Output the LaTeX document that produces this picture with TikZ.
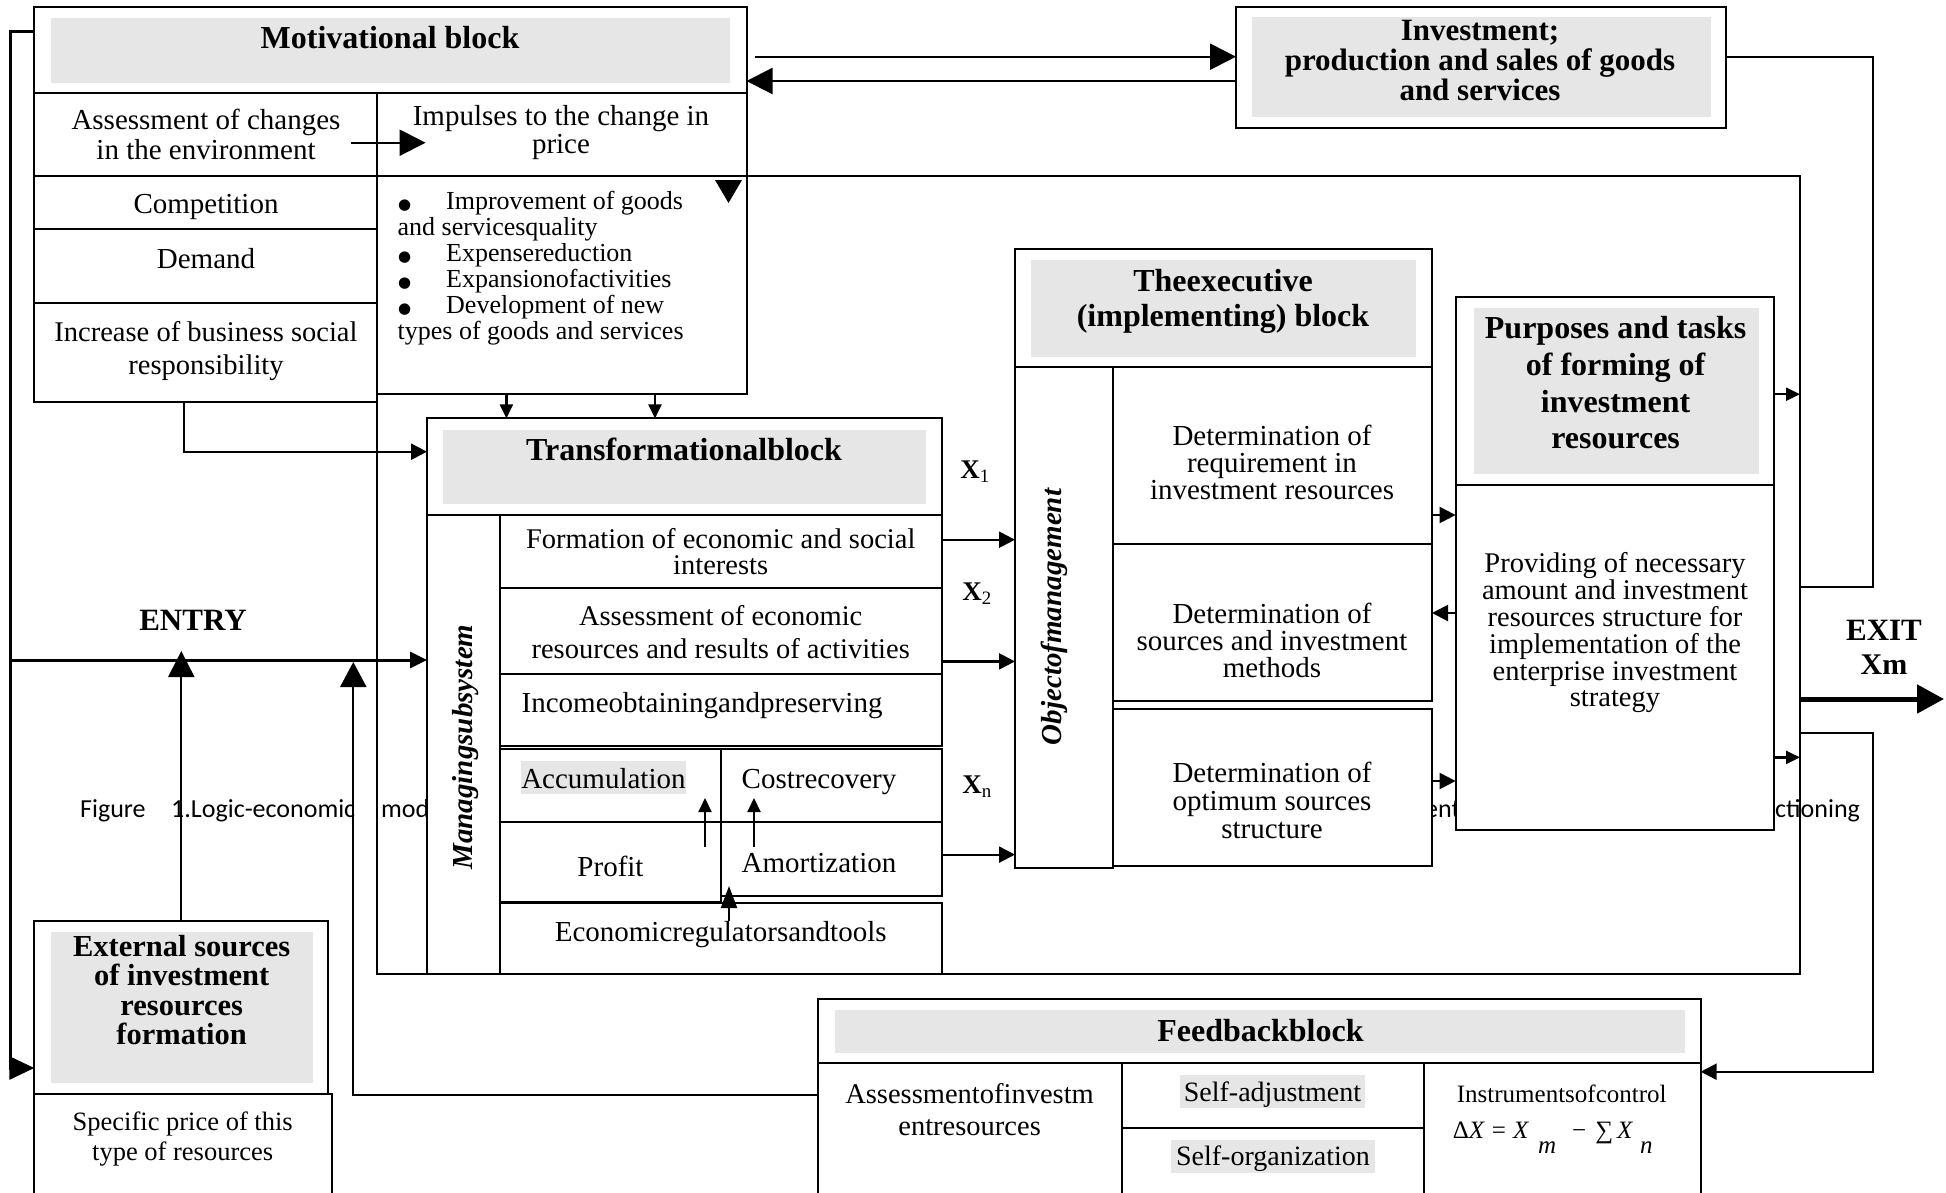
\documentclass[tikz,border=0pt]{standalone}
\usepackage{fontspec}
\setmainfont{Liberation Serif}
\newfontfamily\capfont{Carlito}
\newfontfamily\symfont{DejaVu Sans}
\usetikzlibrary{fit,arrows.meta,calc}
\newcommand\fsz[2]{\fontsize{#1pt}{#2pt}\selectfont}
\newcommand\bul{\makebox[48.5pt][l]{\hspace{0.5pt}{\symfont\fontsize{15pt}{26pt}\selectfont ●}}}
\definecolor{hl}{RGB}{230,230,230}
\begin{document}
\begin{tikzpicture}[x=1pt,y=-1pt,
 cell/.style={draw,line width=2pt,fill=white,inner sep=0pt,outer sep=0pt},
 graybox/.style={fill=hl,draw=none,inner sep=0pt,outer sep=0pt},
 tx/.style={inner sep=0pt,outer sep=0pt,align=center,font=\fsz{29}{30}},
 hd/.style={tx,font=\fsz{32}{35}\bfseries},
 rot/.style={inner sep=0pt,rotate=90,font=\fsz{29}{30}\bfseries\itshape},
 capt/.style={inner sep=0pt,font=\capfont\fsz{26}{30}},
 xl/.style={inner sep=0pt,font=\fsz{27}{30}},
 lnk/.style={line width=2.2pt},
 aBig/.style={lnk,-{Triangle[length=26pt,width=26pt]}},
 aMed/.style={lnk,-{Triangle[length=16pt,width=16pt]}},
 aSm/.style={lnk,-{Triangle[length=14pt,width=13pt]}},
]
\useasboundingbox (0,0) rectangle (1946,1192);
\clip (0,0) rectangle (1946,1192);

% caption fragments (partly covered by boxes)
\node[capt,anchor=base west] (cap1) at (80,817) {Figure};
\node[capt,anchor=base west] (cap2) at (171,817) {1.Logic-economic};
\node[capt,anchor=base west] (cap3) at (381,817) {mod};
\node[capt,anchor=base west] (cap4) at (1425,817) {ent};
\node[capt,anchor=base west] (cap5) at (1775,817) {ctioning};

% big system frame
\node[draw,line width=2.5pt,inner sep=0pt,outer sep=0pt,fit={(377,176) (1800,974)}] (sys) {};

% Motivational block
\node[cell,fit={(34,6.7) (746.5,93.3)}] (motH) {};
\node[graybox,fit={(51,18.3) (729.5,83.3)}] (motHg) {};
\node[hd,anchor=base] (motHt) at (390,48.5) {Motivational block};
\node[cell,fit={(34,93.3) (377,175.7)}] (motA) {};
\node[tx] (motAt) at (206,134) {Assessment of changes\\in the environment};
\node[cell,fit={(377,93.3) (746.5,175.7)}] (motI) {};
\node[tx,font=\fsz{29}{28}] (motIt) at (561,133) {Impulses to the change in\\price};
\node[cell,fit={(34,175.7) (377,229.3)}] (motC) {};
\node[tx,anchor=base] (motCt) at (206,213.5) {Competition};
\node[cell,fit={(34,229.3) (377,303.3)}] (motD) {};
\node[tx,anchor=base] (motDt) at (206,268) {Demand};
\node[cell,fit={(34,303.3) (377,401.7)}] (motS) {};
\node[tx,font=\fsz{28.5}{33}] (motSt) at (206,351) {Increase of business social\\responsibility};
\node[cell,fit={(377,175.7) (746.5,394)}] (motB) {};
\node[inner sep=0pt,align=left,anchor=north west,font=\fsz{26}{26}] (motBt) at (397.5,191)
 {\bul Improvement of goods\\and servicesquality\\\bul Expensereduction\\\bul Expansionofactivities\\\bul Development of new\\types of goods and services};

% Investment box
\node[cell,fit={(1236,6.7) (1726,128)}] (inv) {};
\node[graybox,fit={(1251.5,16.7) (1711,117)}] (invg) {};
\node[hd,font=\fsz{31}{29.8}\bfseries] (invt) at (1480,60.5) {Investment;\\production and sales of goods\\and services};

% Transformational block
\node[cell,fit={(427,418.4) (941.5,514.8)}] (trH) {};
\node[graybox,fit={(443,429.5) (926,504)}] (trHg) {};
\node[hd,anchor=base] (trHt) at (684,460.5) {Transformationalblock};
\node[cell,fit={(427,514.8) (500.3,974)}] (trM) {};
\node[rot] (trMt) at (466,747) {Managingsubsystem};
\node[cell,fit={(500.3,514.8) (941.5,588.3)}] (trR1) {};
\node[tx,font=\fsz{28.5}{26}] (trR1t) at (720.7,551.5) {Formation of economic and social\\interests};
\node[cell,fit={(500.3,588.3) (941.5,674)}] (trR2) {};
\node[tx,font=\fsz{28.5}{33}] (trR2t) at (720.7,632) {Assessment of economic\\resources and results of activities};
\node[cell,fit={(500.3,674) (941.5,746.3)}] (trR3) {};
\node[tx,anchor=base west] (trR3t) at (521.7,712) {Incomeobtainingandpreserving};
\node[cell,fit={(500.3,749.4) (720.7,822.1)}] (trAcc) {};
\node[graybox,fit={(520.5,761) (686.3,794)}] (trAccg) {};
\node[tx,anchor=base] (trAcct) at (603.4,788) {Accumulation};
\node[cell,fit={(720.7,749.4) (941.5,822.1)}] (trCost) {};
\node[tx,anchor=base west] (trCostt) at (741.7,788) {Costrecovery};
\node[cell,fit={(500.3,822.1) (720.7,902)}] (trProf) {};
\node[tx,anchor=base] (trProft) at (610.5,876) {Profit};
\node[cell,fit={(720.7,822.1) (941.5,895.6)}] (trAm) {};
\node[tx,anchor=base west] (trAmt) at (741.7,872) {Amortization};
\node[cell,fit={(500.3,903) (941.5,974)}] (trEc) {};
\node[tx,anchor=base] (trEct) at (720.7,941) {Economicregulatorsandtools};

% X labels
\node[xl] (x1) at (975,472) {\textbf{X}\textsubscript{1}};
\node[xl] (x2) at (977,594) {\textbf{X}\textsubscript{2}};
\node[xl] (xn) at (977,787) {\textbf{X}\textsubscript{n}};

% Executive block
\node[cell,fit={(1015,249) (1432,366.5)}] (exH) {};
\node[graybox,fit={(1031.4,260) (1416.4,357)}] (exHg) {};
\node[hd] (exHt) at (1223,301) {Theexecutive\\(implementing) block};
\node[cell,fit={(1015,366.5) (1112.9,868)}] (exO) {};
\node[rot] (exOt) at (1054,617) {Objectofmanagement};
\node[cell,fit={(1112.9,366.5) (1432,544)}] (exR1) {};
\node[tx,font=\fsz{29}{27}] (exR1t) at (1272,462) {Determination of\\requirement in\\investment resources};
\node[cell,fit={(1112.9,544) (1432,701)}] (exR2) {};
\node[tx,font=\fsz{29}{27}] (exR2t) at (1272,640) {Determination of\\sources and investment\\methods};
\node[cell,fit={(1112.9,708.5) (1432,866)}] (exR3) {};
\node[tx,font=\fsz{29}{28}] (exR3t) at (1272,800) {Determination of\\optimum sources\\structure};

% Purposes block
\node[cell,fit={(1455.6,297.2) (1774.3,484.6)}] (puH) {};
\node[graybox,fit={(1473.7,308.4) (1758.6,474.2)}] (puHg) {};
\node[hd,font=\fsz{32}{36.7}\bfseries] (puHt) at (1615.6,383) {Purposes and tasks\\of forming of\\investment\\resources};
\node[cell,fit={(1455.6,484.6) (1774.3,829.6)}] (puB) {};
\node[tx,font=\fsz{28.5}{26.8}] (puBt) at (1615,633) {Providing of necessary\\amount and investment\\resources structure for\\implementation of the\\enterprise investment\\strategy};

% External sources
\node[cell,fit={(34.3,921) (328.3,1094.4)}] (exS) {};
\node[graybox,fit={(51,931.8) (312.7,1082.8)}] (exSg) {};
\node[hd,font=\fsz{30.5}{29.4}\bfseries] (exSt) at (181.7,990) {External sources\\of investment\\resources\\formation};
\node[cell,fit={(34.3,1094.4) (332.3,1215)}] (exP) {};
\node[tx,font=\fsz{26.5}{30.5}] (exPt) at (182.7,1139) {Specific price of this\\type of resources};

% Feedback block
\node[cell,fit={(818.3,999.3) (1700.6,1063.3)}] (fbH) {};
\node[graybox,fit={(835,1010) (1684.5,1053.3)}] (fbHg) {};
\node[hd,anchor=base] (fbHt) at (1260.5,1041) {Feedbackblock};
\node[cell,fit={(818.3,1063.3) (1121.6,1215)}] (fbA) {};
\node[tx,font=\fsz{28.5}{32}] (fbAt) at (969.6,1109.5) {Assessmentofinvestm\\entresources};
\node[cell,fit={(1121.6,1063.3) (1423.5,1128.3)}] (fbS1) {};
\node[graybox,fit={(1180,1075) (1365,1108.3)}] (fbS1g) {};
\node[tx,font=\fsz{28}{30},anchor=base] (fbS1t) at (1272.5,1101.5) {Self-adjustment};
\node[cell,fit={(1121.6,1128.3) (1423.5,1215)}] (fbS2) {};
\node[graybox,fit={(1171,1140) (1375,1173)}] (fbS2g) {};
\node[tx,font=\fsz{28}{30},anchor=base] (fbS2t) at (1273,1165.5) {Self-organization};
\node[cell,fit={(1423.5,1063.3) (1700.6,1215)}] (fbI) {};
\node[tx,font=\fsz{25}{28},anchor=base] (fbIt) at (1561.7,1102) {Instrumentsofcontrol};
\node[tx,font=\fsz{25}{28},anchor=base west] (fbIf) at (1452.8,1138)
 {Δ\textit{X}\hspace{7pt}=\hspace{7pt}\textit{X}\hspace{9pt}\raisebox{-15pt}{\textit{m}}\hspace{16pt}−\hspace{9pt}∑\hspace{4pt}\textit{X}\hspace{7pt}\raisebox{-15pt}{\textit{n}}};

% ENTRY / EXIT labels
\node[hd,font=\fsz{31}{34}\bfseries,anchor=base] (entry) at (193,630) {ENTRY};
\node[hd,font=\fsz{31}{34}\bfseries,anchor=base] (exitl) at (1884,640) {EXIT};
\node[hd,font=\fsz{30}{34}\bfseries,anchor=base] (xml) at (1884,674.5) {Xm};

% helper coordinates
\coordinate (L1) at (10,31);
\coordinate (L2) at (10,1068);
\coordinate (E0) at (10,660);
\coordinate (E1) at (0,651);
\coordinate (E2) at (0,662);
\coordinate (F0) at (353.3,1095);
\coordinate (M0) at (183.7,451.7);
\coordinate (d1) at (506.4,0);
\coordinate (d2) at (655,0);
\coordinate (a1) at (351.4,142.7);
\coordinate (a2) at (425.6,142.7);
\coordinate (I1) at (0,56.7);
\coordinate (I2) at (0,81);
\coordinate (R1) at (1872.6,56.7);
\coordinate (R2) at (1872.6,587);
\coordinate (R3) at (1872.6,733);
\coordinate (R4) at (1872.6,1071.7);
\coordinate (X0) at (1944,699);
\coordinate (t1) at (0,539.7);
\coordinate (t2) at (0,661.4);
\coordinate (t3) at (0,854.6);
\coordinate (p1) at (0,515);
\coordinate (p2) at (0,613);
\coordinate (p3) at (0,781);
\coordinate (q1) at (0,394.2);
\coordinate (q2) at (0,757.4);
\coordinate (u1) at (705,847);
\coordinate (u1b) at (705,798);
\coordinate (u2) at (754,847);
\coordinate (u2b) at (754,798);
\coordinate (u3) at (729,921);
\coordinate (u3b) at (729,886);

% connectors
\draw[lnk,line width=3pt,-{Triangle[length=25pt,width=23pt]}] (motH.west |- L1) -- (L1) -- (L2) -- (exS.west |- L2);
\draw[lnk,line width=3pt,-{Triangle[length=17pt,width=16pt]}] (E0) -- (trM.west |- E0);
\draw[aBig] (exS.north) -- (exS.north |- E1);
\draw[lnk,-{Triangle[length=25pt,width=26pt]}] (fbA.west |- F0) -- (F0) -- (F0 |- E2);
\draw[aMed] (motS.south -| M0) -- (M0) -- (trH.west |- M0);
\draw[aSm] (motB.south -| d1) -- (trH.north -| d1);
\draw[aSm] (motB.south -| d2) -- (trH.north -| d2);
\draw[aBig] (a1) -- (a2);
\draw[aBig] ($(motH.east |- I1)+(8,0)$) -- (inv.west |- I1);
\draw[aBig] (inv.west |- I2) -- (motH.east |- I2);
\fill (715,180) -- (742,180) -- (728.5,203) -- cycle;
\draw[lnk] (inv.east |- R1) -- (R1) -- (R2) -- (sys.east |- R2);
\draw[line width=5pt,-{Triangle[length=27pt,width=28pt]}] (sys.east |- X0) -- (X0);
\draw[aMed] (sys.east |- R3) -- (R3) -- (R4) -- (fbI.east |- R4);
\draw[aMed] (trR1.east |- t1) -- (exO.west |- t1);
\draw[aMed] (trR2.east |- t2) -- (exO.west |- t2);
\draw[aMed] (trAm.east |- t3) -- (exO.west |- t3);
\draw[aMed] (exR1.east |- p1) -- (puB.west |- p1);
\draw[aMed] (puB.west |- p2) -- (exR2.east |- p2);
\draw[aMed] (exR3.east |- p3) -- (puB.west |- p3);
\draw[aSm] (puH.east |- q1) -- (sys.east |- q1);
\draw[aSm] (puB.east |- q2) -- (sys.east |- q2);
\draw[aSm] (u1) -- (u1b);
\draw[aSm] (u2) -- (u2b);
\draw[lnk,-{Triangle[length=22pt,width=16pt]}] (u3) -- (u3b);
\end{tikzpicture}
\end{document}
